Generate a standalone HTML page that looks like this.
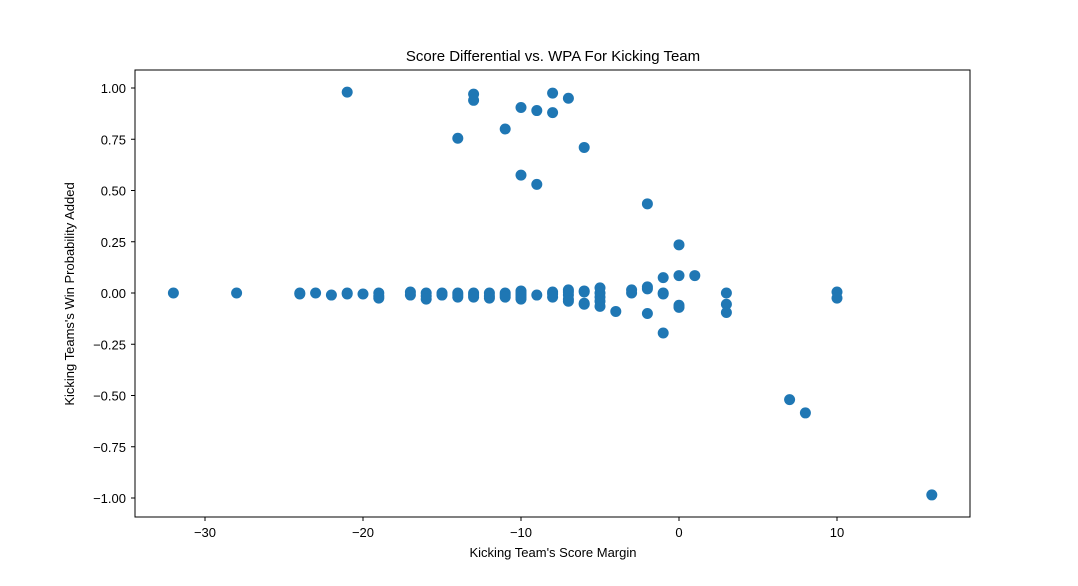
<!DOCTYPE html>
<html><head><meta charset="utf-8"><style>
body{margin:0;background:#fff;}
svg text{font-family:"Liberation Sans","DejaVu Sans",sans-serif;fill:#000;}
</style></head><body>
<svg id="chart" width="1078" height="581">
<text x="553" y="61" font-size="15" text-anchor="middle">Score Differential vs. WPA For Kicking Team</text>
<rect x="135" y="70" width="835" height="447" fill="none" stroke="#000" stroke-width="1"/>
<g id="xticks"></g>
<g id="yticks"></g>
<g id="points"></g>
<text x="553" y="557" font-size="13" text-anchor="middle">Kicking Team's Score Margin</text>
<text x="0" y="0" font-size="13" text-anchor="middle" transform="translate(74,294) rotate(-90)">Kicking Teams's Win Probability Added</text>
</svg>
<script>
const xTicks=[-30,-20,-10,0,10];
const yTicks=[1.0,0.75,0.5,0.25,0.0,-0.25,-0.5,-0.75,-1.0];
const xVals=[-21,-13,-13,-10,-9,-8,-8,-7,-11,-14,-6,-10,-9,-2,0,0,1,-1,-2,-2,-3,-3,-1,-1,-2,-1,-4,0,0,3,3,3,10,10,7,8,16,-32,-28,
-24,-24,-23,-22,-21,-21,-20,-19,-19,-19,-17,-17,-16,-16,-16,-15,-15,-14,-14,-14,-13,-13,-13,-12,-12,-12,-11,-11,-11,-10,-10,-10,-10,-10,-9,-8,-8,-8,-7,-7,-7,-7,-7,-6,-6,-6,-6,-5,-5,-5,-5,-5];
const yVals=[0.98,0.97,0.94,0.905,0.89,0.975,0.88,0.95,0.80,0.755,0.71,0.575,0.53,0.435,0.235,0.085,0.085,0.075,0.03,0.02,0.015,0.0,0.0,-0.005,-0.10,-0.195,-0.09,-0.06,-0.07,0,-0.055,-0.095,0.005,-0.025,-0.52,-0.585,-0.985,0,0,
0,-0.005,0,-0.01,0,-0.005,-0.005,0,-0.015,-0.025,0.005,-0.01,0,-0.015,-0.03,0,-0.01,0,-0.01,-0.02,0,-0.01,-0.02,0,-0.015,-0.025,0,-0.01,-0.02,0.01,0,-0.01,-0.02,-0.03,-0.01,0.005,-0.005,-0.02,0.015,0.005,-0.01,-0.03,-0.04,0.01,0.005,-0.05,-0.055,0.025,0,-0.02,-0.04,-0.065];
const NS="http://www.w3.org/2000/svg";
function sx(v){return 679+v*15.8;}
function sy(v){return 293-v*205;}
const xg=document.getElementById('xticks'),yg=document.getElementById('yticks'),pg=document.getElementById('points');
xTicks.forEach(t=>{
 const l=document.createElementNS(NS,'line');
 l.setAttribute('x1',sx(t));l.setAttribute('x2',sx(t));l.setAttribute('y1',517);l.setAttribute('y2',521);l.setAttribute('stroke','#000');
 
 
 xg.appendChild(l);
 const tx=document.createElementNS(NS,'text');
 tx.setAttribute('x',sx(t));tx.setAttribute('y',537);tx.setAttribute('font-size','13');tx.setAttribute('text-anchor','middle');
 tx.textContent=t<0?'\u2212'+Math.abs(t):String(t);
 
 
 xg.appendChild(tx);
});
yTicks.forEach(t=>{
 const l=document.createElementNS(NS,'line');
 l.setAttribute('x1',131);l.setAttribute('x2',135);l.setAttribute('y1',sy(t));l.setAttribute('y2',sy(t));l.setAttribute('stroke','#000');
 
 
 yg.appendChild(l);
 const tx=document.createElementNS(NS,'text');
 tx.setAttribute('x',126);tx.setAttribute('y',sy(t)+5);tx.setAttribute('font-size','13');tx.setAttribute('text-anchor','end');
 tx.textContent=(t<0?'\u2212':'')+Math.abs(t).toFixed(2);
 
 
 yg.appendChild(tx);
});
xVals.forEach((x,i)=>{
 const c=document.createElementNS(NS,'circle');
 c.setAttribute('cx',sx(x));c.setAttribute('cy',sy(yVals[i]));c.setAttribute('r',5.5);c.setAttribute('fill','#1f77b4');
 
 
 pg.appendChild(c);
});
</script>
</body></html>
